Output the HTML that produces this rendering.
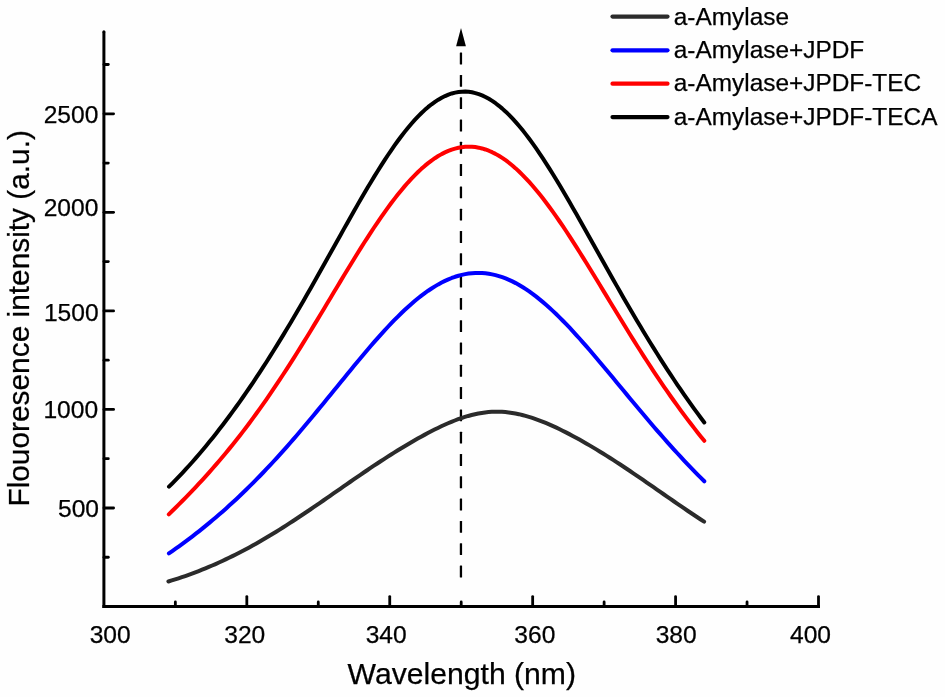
<!DOCTYPE html>
<html><head><meta charset="utf-8"><style>
html,body{margin:0;padding:0;background:#fefefe;}
svg{display:block;will-change:transform;}
text{font-family:"Liberation Sans",sans-serif;fill:#000;stroke:#000;stroke-width:0.25px;}
</style></head><body>
<svg width="945" height="697" viewBox="0 0 945 697">
<rect width="945" height="697" fill="#fefefe"/>
<g stroke="#000" stroke-width="3" fill="none">
<line x1="103.9" y1="31.8" x2="103.9" y2="608"/>
<line x1="102.4" y1="606.5" x2="820" y2="606.5"/>
</g>
<circle cx="103.9" cy="31.8" r="1.5" fill="#000"/>
<g stroke="#000" stroke-width="2.8" fill="none" stroke-linecap="round">
<line x1="104" y1="557.27" x2="108.3" y2="557.27"/><line x1="104" y1="508.00" x2="113.6" y2="508.00"/><line x1="104" y1="458.72" x2="108.3" y2="458.72"/><line x1="104" y1="409.45" x2="113.6" y2="409.45"/><line x1="104" y1="360.17" x2="108.3" y2="360.17"/><line x1="104" y1="310.90" x2="113.6" y2="310.90"/><line x1="104" y1="261.62" x2="108.3" y2="261.62"/><line x1="104" y1="212.35" x2="113.6" y2="212.35"/><line x1="104" y1="163.07" x2="108.3" y2="163.07"/><line x1="104" y1="113.80" x2="113.6" y2="113.80"/><line x1="104" y1="64.52" x2="108.3" y2="64.52"/><line x1="175.36" y1="606.5" x2="175.36" y2="602.0"/><line x1="246.82" y1="606.5" x2="246.82" y2="596.6"/><line x1="318.28" y1="606.5" x2="318.28" y2="602.0"/><line x1="389.74" y1="606.5" x2="389.74" y2="596.6"/><line x1="461.20" y1="606.5" x2="461.20" y2="602.0"/><line x1="532.66" y1="606.5" x2="532.66" y2="596.6"/><line x1="604.12" y1="606.5" x2="604.12" y2="602.0"/><line x1="675.58" y1="606.5" x2="675.58" y2="596.6"/><line x1="747.04" y1="606.5" x2="747.04" y2="602.0"/><line x1="818.50" y1="606.5" x2="818.50" y2="596.6"/>
</g>
<g font-size="24.6">
<text x="98.4" y="122.9" text-anchor="end">2500</text><text x="98.4" y="215.9" text-anchor="end">2000</text><text x="98.6" y="320.5" text-anchor="end">1500</text><text x="98.1" y="417.7" text-anchor="end">1000</text><text x="99.0" y="516.7" text-anchor="end">500</text>
<text x="110.15" y="643" text-anchor="middle">300</text><text x="244.75" y="643" text-anchor="middle">320</text><text x="386.2" y="643" text-anchor="middle">340</text><text x="534.85" y="643" text-anchor="middle">360</text><text x="676.2" y="643" text-anchor="middle">380</text><text x="810.55" y="643" text-anchor="middle">400</text>
</g>
<text x="347.6" y="684" font-size="30.15">Wavelength (nm)</text>
<text transform="translate(28.7,506.6) rotate(-90)" font-size="29.85">Flouoresence intensity (a.u.)</text>
<g fill="#000"><rect x="459.8" y="52.60" width="2.3" height="11.9" rx="0.5"/><rect x="459.8" y="74.90" width="2.3" height="11.9" rx="0.5"/><rect x="459.8" y="97.20" width="2.3" height="11.9" rx="0.5"/><rect x="459.8" y="119.50" width="2.3" height="11.9" rx="0.5"/><rect x="459.8" y="141.80" width="2.3" height="11.9" rx="0.5"/><rect x="459.8" y="164.10" width="2.3" height="11.9" rx="0.5"/><rect x="459.8" y="186.40" width="2.3" height="11.9" rx="0.5"/><rect x="459.8" y="208.70" width="2.3" height="11.9" rx="0.5"/><rect x="459.8" y="231.00" width="2.3" height="11.9" rx="0.5"/><rect x="459.8" y="253.30" width="2.3" height="11.9" rx="0.5"/><rect x="459.8" y="275.60" width="2.3" height="11.9" rx="0.5"/><rect x="459.8" y="297.90" width="2.3" height="11.9" rx="0.5"/><rect x="459.8" y="320.20" width="2.3" height="11.9" rx="0.5"/><rect x="459.8" y="342.50" width="2.3" height="11.9" rx="0.5"/><rect x="459.8" y="364.80" width="2.3" height="11.9" rx="0.5"/><rect x="459.8" y="387.10" width="2.3" height="11.9" rx="0.5"/><rect x="459.8" y="409.40" width="2.3" height="11.9" rx="0.5"/><rect x="459.8" y="431.70" width="2.3" height="11.9" rx="0.5"/><rect x="459.8" y="454.00" width="2.3" height="11.9" rx="0.5"/><rect x="459.8" y="476.30" width="2.3" height="11.9" rx="0.5"/><rect x="459.8" y="498.60" width="2.3" height="11.9" rx="0.5"/><rect x="459.8" y="520.90" width="2.3" height="11.9" rx="0.5"/><rect x="459.8" y="543.20" width="2.3" height="11.9" rx="0.5"/><rect x="459.8" y="565.50" width="2.3" height="11.9" rx="0.5"/><path d="M461,28 L456.1,46.2 L465.9,46.2 Z"/></g>
<g fill="none" stroke-linecap="round" stroke-linejoin="round">
<path d="M168.40,581.47 L171.77,580.44 L175.14,579.39 L178.51,578.30 L181.88,577.17 L185.25,576.02 L188.62,574.83 L191.98,573.60 L195.35,572.34 L198.72,571.05 L202.09,569.72 L205.46,568.35 L208.83,566.95 L212.20,565.52 L215.57,564.05 L218.94,562.54 L222.31,561.00 L225.68,559.42 L229.05,557.80 L232.41,556.16 L235.78,554.47 L239.15,552.75 L242.52,551.00 L245.89,549.21 L249.26,547.39 L252.63,545.54 L256.00,543.65 L259.37,541.73 L262.74,539.78 L266.11,537.80 L269.48,535.79 L272.84,533.76 L276.21,531.69 L279.58,529.59 L282.95,527.48 L286.32,525.33 L289.69,523.16 L293.06,520.97 L296.43,518.76 L299.80,516.53 L303.17,514.28 L306.54,512.01 L309.91,509.73 L313.27,507.43 L316.64,505.13 L320.01,502.81 L323.38,500.48 L326.75,498.15 L330.12,495.81 L333.49,493.46 L336.86,491.12 L340.23,488.77 L343.60,486.43 L346.97,484.09 L350.34,481.76 L353.71,479.43 L357.07,477.11 L360.44,474.80 L363.81,472.51 L367.18,470.23 L370.55,467.96 L373.92,465.71 L377.29,463.48 L380.66,461.27 L384.03,459.08 L387.40,456.91 L390.77,454.77 L394.14,452.65 L397.50,450.55 L400.87,448.49 L404.24,446.45 L407.61,444.43 L410.98,442.45 L414.35,440.50 L417.72,438.59 L421.09,436.71 L424.46,434.87 L427.83,433.06 L431.20,431.30 L434.57,429.59 L437.93,427.93 L441.30,426.32 L444.67,424.77 L448.04,423.28 L451.41,421.86 L454.78,420.51 L458.15,419.24 L461.52,418.05 L464.89,416.95 L468.26,415.95 L471.63,415.04 L475.00,414.23 L478.36,413.53 L481.73,412.94 L485.10,412.46 L488.47,412.10 L491.84,411.86 L495.21,411.74 L498.58,411.74 L501.95,411.86 L505.32,412.09 L508.69,412.45 L512.06,412.91 L515.43,413.49 L518.79,414.17 L522.16,414.96 L525.53,415.85 L528.90,416.83 L532.27,417.89 L535.64,419.04 L539.01,420.27 L542.38,421.58 L545.75,422.95 L549.12,424.38 L552.49,425.88 L555.86,427.43 L559.23,429.03 L562.59,430.68 L565.96,432.38 L569.33,434.12 L572.70,435.90 L576.07,437.72 L579.44,439.58 L582.81,441.47 L586.18,443.40 L589.55,445.36 L592.92,447.35 L596.29,449.38 L599.66,451.43 L603.02,453.51 L606.39,455.61 L609.76,457.75 L613.13,459.91 L616.50,462.09 L619.87,464.29 L623.24,466.52 L626.61,468.76 L629.98,471.02 L633.35,473.30 L636.72,475.59 L640.09,477.90 L643.45,480.22 L646.82,482.54 L650.19,484.87 L653.56,487.21 L656.93,489.56 L660.30,491.90 L663.67,494.24 L667.04,496.58 L670.41,498.92 L673.78,501.25 L677.15,503.58 L680.52,505.89 L683.88,508.20 L687.25,510.49 L690.62,512.76 L693.99,515.03 L697.36,517.27 L700.73,519.49 L704.10,521.70" stroke="#2b2b2b" stroke-width="4"/>
<path d="M168.90,553.36 L172.27,551.04 L175.63,548.68 L179.00,546.28 L182.37,543.85 L185.74,541.37 L189.10,538.86 L192.47,536.30 L195.84,533.70 L199.21,531.06 L202.57,528.38 L205.94,525.66 L209.31,522.89 L212.67,520.08 L216.04,517.23 L219.41,514.33 L222.78,511.38 L226.14,508.40 L229.51,505.36 L232.88,502.28 L236.25,499.16 L239.61,495.98 L242.98,492.77 L246.35,489.50 L249.72,486.19 L253.08,482.83 L256.45,479.43 L259.82,475.98 L263.18,472.49 L266.55,468.95 L269.92,465.36 L273.29,461.74 L276.65,458.07 L280.02,454.35 L283.39,450.60 L286.76,446.81 L290.12,442.98 L293.49,439.11 L296.86,435.20 L300.22,431.26 L303.59,427.30 L306.96,423.30 L310.33,419.27 L313.69,415.22 L317.06,411.15 L320.43,407.05 L323.80,402.94 L327.16,398.82 L330.53,394.69 L333.90,390.55 L337.26,386.41 L340.63,382.27 L344.00,378.14 L347.37,374.02 L350.73,369.91 L354.10,365.82 L357.47,361.75 L360.84,357.71 L364.20,353.70 L367.57,349.73 L370.94,345.80 L374.31,341.92 L377.67,338.10 L381.04,334.33 L384.41,330.63 L387.77,326.99 L391.14,323.43 L394.51,319.95 L397.88,316.56 L401.24,313.26 L404.61,310.05 L407.98,306.95 L411.35,303.95 L414.71,301.07 L418.08,298.30 L421.45,295.65 L424.81,293.13 L428.18,290.74 L431.55,288.48 L434.92,286.37 L438.28,284.39 L441.65,282.56 L445.02,280.89 L448.39,279.36 L451.75,277.99 L455.12,276.78 L458.49,275.73 L461.85,274.85 L465.22,274.12 L468.59,273.57 L471.96,273.18 L475.32,272.95 L478.69,272.90 L482.06,273.01 L485.43,273.29 L488.79,273.73 L492.16,274.35 L495.53,275.12 L498.89,276.06 L502.26,277.16 L505.63,278.42 L509.00,279.84 L512.36,281.40 L515.73,283.12 L519.10,284.99 L522.47,287.00 L525.83,289.15 L529.20,291.43 L532.57,293.85 L535.94,296.39 L539.30,299.06 L542.67,301.84 L546.04,304.74 L549.40,307.74 L552.77,310.85 L556.14,314.05 L559.51,317.35 L562.87,320.73 L566.24,324.20 L569.61,327.74 L572.98,331.35 L576.34,335.03 L579.71,338.77 L583.08,342.56 L586.44,346.40 L589.81,350.29 L593.18,354.22 L596.55,358.18 L599.91,362.17 L603.28,366.19 L606.65,370.22 L610.02,374.28 L613.38,378.34 L616.75,382.41 L620.12,386.49 L623.48,390.56 L626.85,394.63 L630.22,398.70 L633.59,402.75 L636.95,406.79 L640.32,410.81 L643.69,414.81 L647.06,418.79 L650.42,422.75 L653.79,426.68 L657.16,430.58 L660.53,434.44 L663.89,438.28 L667.26,442.08 L670.63,445.84 L673.99,449.57 L677.36,453.26 L680.73,456.91 L684.10,460.52 L687.46,464.08 L690.83,467.61 L694.20,471.09 L697.57,474.53 L700.93,477.92 L704.30,481.28" stroke="#0000ff" stroke-width="4"/>
<path d="M168.80,514.33 L172.17,511.05 L175.54,507.74 L178.90,504.39 L182.27,501.00 L185.64,497.58 L189.01,494.11 L192.38,490.60 L195.74,487.05 L199.11,483.45 L202.48,479.80 L205.85,476.09 L209.22,472.34 L212.58,468.53 L215.95,464.67 L219.32,460.75 L222.69,456.77 L226.05,452.74 L229.42,448.64 L232.79,444.47 L236.16,440.25 L239.53,435.96 L242.89,431.61 L246.26,427.19 L249.63,422.70 L253.00,418.15 L256.37,413.53 L259.73,408.85 L263.10,404.10 L266.47,399.28 L269.84,394.40 L273.21,389.46 L276.57,384.45 L279.94,379.39 L283.31,374.26 L286.68,369.08 L290.05,363.85 L293.41,358.56 L296.78,353.22 L300.15,347.83 L303.52,342.41 L306.88,336.94 L310.25,331.44 L313.62,325.90 L316.99,320.34 L320.36,314.76 L323.72,309.16 L327.09,303.55 L330.46,297.94 L333.83,292.32 L337.20,286.71 L340.56,281.11 L343.93,275.53 L347.30,269.97 L350.67,264.44 L354.04,258.96 L357.40,253.52 L360.77,248.13 L364.14,242.80 L367.51,237.55 L370.88,232.36 L374.24,227.26 L377.61,222.26 L380.98,217.35 L384.35,212.54 L387.72,207.85 L391.08,203.29 L394.45,198.85 L397.82,194.55 L401.19,190.39 L404.55,186.38 L407.92,182.53 L411.29,178.85 L414.66,175.34 L418.03,172.00 L421.39,168.85 L424.76,165.89 L428.13,163.13 L431.50,160.56 L434.87,158.20 L438.23,156.05 L441.60,154.11 L444.97,152.39 L448.34,150.90 L451.71,149.62 L455.07,148.57 L458.44,147.75 L461.81,147.16 L465.18,146.79 L468.55,146.66 L471.91,146.76 L475.28,147.09 L478.65,147.66 L482.02,148.45 L485.38,149.47 L488.75,150.71 L492.12,152.18 L495.49,153.87 L498.86,155.77 L502.22,157.89 L505.59,160.21 L508.96,162.74 L512.33,165.47 L515.70,168.40 L519.06,171.51 L522.43,174.81 L525.80,178.28 L529.17,181.93 L532.54,185.73 L535.90,189.70 L539.27,193.82 L542.64,198.07 L546.01,202.47 L549.38,206.99 L552.74,211.63 L556.11,216.39 L559.48,221.25 L562.85,226.21 L566.22,231.26 L569.58,236.39 L572.95,241.59 L576.32,246.87 L579.69,252.20 L583.05,257.59 L586.42,263.01 L589.79,268.48 L593.16,273.98 L596.53,279.50 L599.89,285.04 L603.26,290.59 L606.63,296.15 L610.00,301.71 L613.37,307.25 L616.73,312.79 L620.10,318.31 L623.47,323.80 L626.84,329.27 L630.21,334.71 L633.57,340.11 L636.94,345.47 L640.31,350.79 L643.68,356.06 L647.05,361.29 L650.41,366.46 L653.78,371.57 L657.15,376.63 L660.52,381.63 L663.88,386.57 L667.25,391.44 L670.62,396.26 L673.99,401.01 L677.36,405.69 L680.72,410.31 L684.09,414.86 L687.46,419.35 L690.83,423.77 L694.20,428.13 L697.56,432.42 L700.93,436.64 L704.30,440.80" stroke="#ff0000" stroke-width="4"/>
<path d="M169.00,486.68 L172.37,483.32 L175.73,479.88 L179.10,476.38 L182.47,472.82 L185.83,469.18 L189.20,465.48 L192.57,461.71 L195.93,457.87 L199.30,453.97 L202.67,449.99 L206.03,445.95 L209.40,441.84 L212.77,437.66 L216.13,433.41 L219.50,429.10 L222.87,424.72 L226.23,420.27 L229.60,415.75 L232.97,411.17 L236.33,406.51 L239.70,401.80 L243.07,397.01 L246.43,392.16 L249.80,387.25 L253.17,382.27 L256.53,377.22 L259.90,372.11 L263.27,366.94 L266.63,361.71 L270.00,356.41 L273.37,351.05 L276.73,345.64 L280.10,340.17 L283.47,334.64 L286.83,329.06 L290.20,323.42 L293.57,317.74 L296.93,312.01 L300.30,306.23 L303.67,300.41 L307.03,294.55 L310.40,288.65 L313.77,282.72 L317.13,276.77 L320.50,270.78 L323.87,264.78 L327.23,258.76 L330.60,252.73 L333.97,246.70 L337.33,240.67 L340.70,234.65 L344.07,228.64 L347.43,222.65 L350.80,216.68 L354.17,210.76 L357.53,204.87 L360.90,199.04 L364.27,193.27 L367.63,187.56 L371.00,181.93 L374.37,176.39 L377.73,170.94 L381.10,165.59 L384.47,160.36 L387.83,155.25 L391.20,150.27 L394.57,145.44 L397.93,140.75 L401.30,136.23 L404.67,131.88 L408.03,127.71 L411.40,123.73 L414.77,119.94 L418.13,116.36 L421.50,113.00 L424.87,109.85 L428.23,106.94 L431.60,104.26 L434.97,101.83 L438.33,99.64 L441.70,97.71 L445.07,96.04 L448.43,94.62 L451.80,93.48 L455.17,92.61 L458.53,92.00 L461.90,91.67 L465.27,91.61 L468.63,91.83 L472.00,92.32 L475.37,93.09 L478.73,94.12 L482.10,95.42 L485.47,96.98 L488.83,98.81 L492.20,100.89 L495.57,103.22 L498.93,105.79 L502.30,108.61 L505.67,111.66 L509.03,114.93 L512.40,118.41 L515.77,122.11 L519.13,126.01 L522.50,130.10 L525.87,134.37 L529.23,138.81 L532.60,143.42 L535.97,148.19 L539.33,153.10 L542.70,158.15 L546.07,163.32 L549.43,168.61 L552.80,174.01 L556.17,179.50 L559.53,185.09 L562.90,190.75 L566.27,196.49 L569.63,202.29 L573.00,208.14 L576.37,214.04 L579.73,219.98 L583.10,225.94 L586.47,231.93 L589.83,237.94 L593.20,243.96 L596.57,249.98 L599.93,256.00 L603.30,262.01 L606.67,268.01 L610.03,273.99 L613.40,279.94 L616.77,285.88 L620.13,291.78 L623.50,297.64 L626.87,303.47 L630.23,309.26 L633.60,315.00 L636.97,320.70 L640.33,326.34 L643.70,331.94 L647.07,337.49 L650.43,342.97 L653.80,348.41 L657.17,353.78 L660.53,359.10 L663.90,364.35 L667.27,369.55 L670.63,374.68 L674.00,379.75 L677.37,384.76 L680.73,389.70 L684.10,394.57 L687.47,399.38 L690.83,404.13 L694.20,408.81 L697.57,413.42 L700.93,417.97 L704.30,422.45" stroke="#000" stroke-width="4"/>
<line x1="612.5" y1="16.6" x2="667.5" y2="16.6" stroke="#2b2b2b" stroke-width="4.2"/>
<line x1="612.5" y1="50.3" x2="667.5" y2="50.3" stroke="#0000ff" stroke-width="4.2"/>
<line x1="612.5" y1="83.7" x2="667.5" y2="83.7" stroke="#ff0000" stroke-width="4.2"/>
<line x1="612.5" y1="117.1" x2="667.5" y2="117.1" stroke="#000" stroke-width="4.2"/>
</g>
<g font-size="24.4">
<text x="673.8" y="24.6">a-Amylase</text>
<text x="673.8" y="57.9">a-Amylase+JPDF</text>
<text x="673.8" y="91.4">a-Amylase+JPDF-TEC</text>
<text x="673.8" y="124.7">a-Amylase+JPDF-TECA</text>
</g>
</svg>
</body></html>
